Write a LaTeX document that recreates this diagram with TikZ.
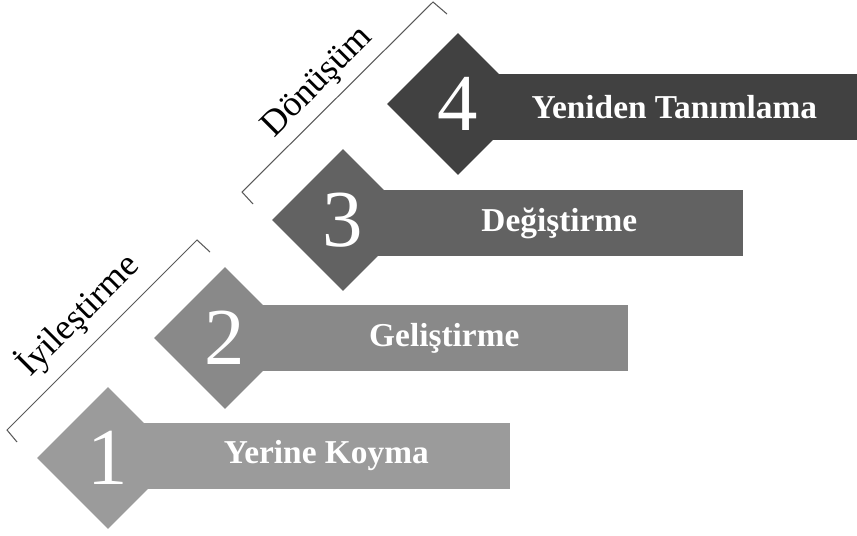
\documentclass[tikz,border=0pt]{standalone}
\usepackage{fontspec}
\setmainfont{Liberation Serif}
\usetikzlibrary{
  positioning,
  shapes.geometric,
}
\definecolor{stepone}{HTML}{9B9B9B}
\definecolor{steptwo}{HTML}{898989}
\definecolor{stepthree}{HTML}{626262}
\definecolor{stepfour}{HTML}{414141}
\tikzset{
  bar/.style={rectangle,anchor=west,minimum width=7.36cm,minimum height=1.34cm,text=white,font=\bfseries\fontsize{19}{21}\selectfont},
  rhomb/.style={diamond,aspect=1,inner sep=0pt,minimum width=2.84cm,minimum height=2.84cm,text=white,font=\fontsize{46}{48}\selectfont},
  bracket/.style={draw=black!65,line width=0.6pt},
  phase/.style={rotate=45,font=\fontsize{20.5}{22}\selectfont},
}
\begin{document}
\begin{tikzpicture}[x=0.02cm,y=-0.02cm]

      \useasboundingbox (0,0) rectangle (857,536);

      \node[bar,fill=stepone] (bar1) at (142,456) {Yerine Koyma};
      \node[rhomb,fill=stepone] (num1) at (108,458) {1};
      \node[bar,fill=steptwo] (bar2) at (260,338) {Geliştirme};
      \node[rhomb,fill=steptwo] (num2) at (225,338) {2};
      \node[bar,fill=stepthree] (bar3) at (375,223) {Değiştirme};
      \node[rhomb,fill=stepthree] (num3) at (343,220) {3};
      \node[bar,fill=stepfour] (bar4) at (490,107) {Yeniden Tanımlama};
      \node[rhomb,fill=stepfour] (num4) at (458,104) {4};

      \coordinate (ilow) at (7,430);
      \coordinate (ihigh) at (197,240);
      \coordinate (dlow) at (242,192);
      \coordinate (dhigh) at (433,2);
      \draw[bracket] (17,442) -- (ilow) -- (ihigh) -- (210,252);
      \draw[bracket] (253,204) -- (dlow) -- (dhigh) -- (447,14);
      \node[phase] (improve) at (78,315) {İyileştirme};
      \node[phase] (transform) at (318,83) {Dönüşüm};

    \end{tikzpicture}
\end{document}
